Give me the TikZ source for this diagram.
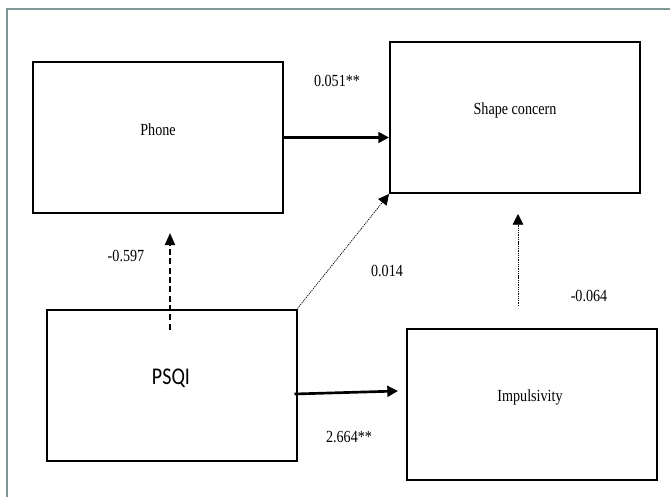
\documentclass[tikz,border=0pt]{standalone}
\usepackage{fontspec}
\setmainfont{Liberation Serif}
\newfontfamily\psqifont{Carlito}
\usetikzlibrary{arrows.meta,calc}
\definecolor{framegray}{HTML}{7E9995}
\newcommand{\tallt}[1]{\scalebox{1}[1.2]{#1}}

\begin{document}
\begin{tikzpicture}[
  x=0.75pt,y=-0.75pt,
  varbox/.style={draw,line width=1.5pt,minimum width=187.5pt,minimum height=113.25pt,inner sep=0pt},
  varlbl/.style={font=\fontsize{10.6}{12}\selectfont,inner sep=0pt},
  coef/.style={font=\fontsize{10.6}{12}\selectfont,inner sep=0pt},
  tip/.style={-{Triangle[length=8pt,width=8pt]}},
  sig/.style={tip,line width=2pt},
  nonsig/.style={tip,line width=0.5pt,dash pattern=on 1pt off 0.7pt}
]
\useasboundingbox (0,0) rectangle (670,497);

% Outer frame (open at right and bottom)
\draw[line width=1.3pt,framegray] (7,497) -- (7,8.7) -- (670,8.7);

% Variables
\node[varbox] (phone) at (158,137.5) {};
\node[varbox] (shape) at (515,117.5) {};
\node[varbox] (psqi)  at (171.5,385) {};
\node[varbox] (imp)   at (532,404.5) {};

\node[varlbl] (phonetxt) at (158,130) {\tallt{Phone}};
\node[varlbl] (shapetxt) at (515,110) {\tallt{Shape concern}};
\node[inner sep=0pt,font=\psqifont\fontsize{15}{18}\selectfont] (psqitxt) at (171,378) {\tallt{PSQI}};
\node[varlbl] (imptxt) at (530,397) {\tallt{Impulsivity}};

% Paths
\draw[sig] (phone.east) -- (shape.west |- phone.east);
\draw[sig] ($(psqi.east)+(-3,9)$) -- ($(imp.west)+(-8,-13.5)$);
\draw[-{Triangle[length=9pt,width=7.5pt]},line width=1.5pt,dash pattern=on 4.5pt off 2.5pt]
  ($(psqi.north)+(-1.5,21)$) -- ($(phone.south)+(12,19)$);
\draw[nonsig] (psqi.north east) -- (shape.south west);
\draw[nonsig] ($(imp.north)+(-14,-22)$) -- ($(shape.south)+(3,20)$);

% Coefficients
\node[coef] (c1) at (337,81)  {\tallt{0.051**}};
\node[coef] (c2) at (126,256) {\tallt{-0.597}};
\node[coef] (c3) at (387,271) {\tallt{0.014}};
\node[coef] (c4) at (589,296) {\tallt{-0.064}};
\node[coef] (c5) at (349,437) {\tallt{2.664**}};
\end{tikzpicture}
\end{document}
